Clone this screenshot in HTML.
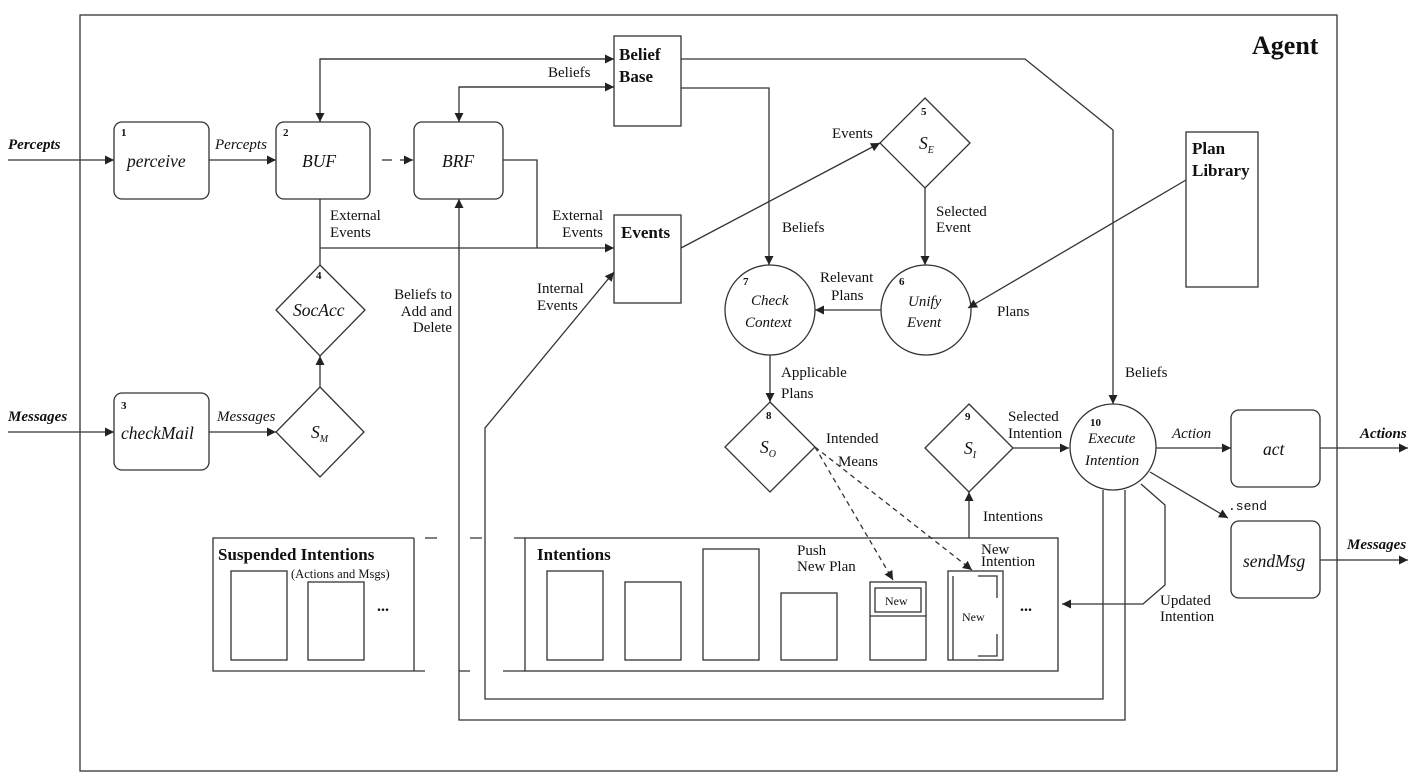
<!DOCTYPE html>
<html><head><meta charset="utf-8"><style>
html,body{margin:0;padding:0;background:#fff}
svg{display:block}
text{font-family:"Liberation Serif",serif;fill:#111}
.l{font-size:15px}
.n{font-size:17.5px;font-style:italic}
.b{font-weight:bold}
.num{font-size:11px;font-weight:bold}
</style></head><body>
<svg width="1414" height="778" viewBox="0 0 1414 778" xmlns="http://www.w3.org/2000/svg">
<defs>
<marker id="a" viewBox="0 0 10 10" refX="10" refY="5" markerWidth="13" markerHeight="9" markerUnits="userSpaceOnUse" orient="auto"><path d="M0,0L10,5L0,10z" fill="#222"/></marker>
</defs>
<g fill="none" stroke="#333" stroke-width="1.3">
<rect x="80" y="15" width="1257" height="756"/>
<rect x="114" y="122" width="95" height="77" rx="8"/>
<rect x="276" y="122" width="94" height="77" rx="8"/>
<rect x="414" y="122" width="89" height="77" rx="8"/>
<rect x="114" y="393" width="95" height="77" rx="8"/>
<rect x="1231" y="410" width="89" height="77" rx="8"/>
<rect x="1231" y="521" width="89" height="77" rx="8"/>
<rect x="614" y="36" width="67" height="90"/>
<rect x="614" y="215" width="67" height="88"/>
<rect x="1186" y="132" width="72" height="155"/>
<path d="M320,265L365,310L320,356L276,310Z"/>
<path d="M320,387L364,432L320,477L276,432Z"/>
<path d="M925,98L970,143L925,188L880,143Z"/>
<path d="M770,402L815,447L770,492L725,447Z"/>
<path d="M969,404L1013,448L969,492L925,448Z"/>
<circle cx="770" cy="310" r="45"/>
<circle cx="926" cy="310" r="45"/>
<circle cx="1113" cy="447" r="43"/>
<path d="M414,538H213V671H425M414,538V671"/>
<path d="M425,538H437M470,538H482M514,538H525M459,671H470M503,671H525"/>
<rect x="525" y="538" width="533" height="133"/>
<rect x="231" y="571" width="56" height="89"/>
<rect x="308" y="582" width="56" height="78"/>
<rect x="547" y="571" width="56" height="89"/>
<rect x="625" y="582" width="56" height="78"/>
<rect x="703" y="549" width="56" height="111"/>
<rect x="781" y="593" width="56" height="67"/>
<rect x="870" y="582" width="56" height="78"/>
<rect x="875" y="588" width="46" height="24"/>
<path d="M870,616H926"/>
<rect x="948" y="571" width="55" height="89"/>
<path d="M953,576V660M978,576H997V598M997,634V656H978"/>
<path d="M8,160H114" marker-end="url(#a)"/>
<path d="M209,160H276" marker-end="url(#a)"/>
<path d="M382,160H392"/>
<path d="M400,160H413" marker-end="url(#a)"/>
<path d="M8,432H114" marker-end="url(#a)"/>
<path d="M209,432H276" marker-end="url(#a)"/>
<path d="M320,387V356" marker-end="url(#a)"/>
<path d="M320,199V265M320,248H614" marker-end="url(#a)"/>
<path d="M503,160H537V248"/>
<path d="M614,59H320V122" marker-end="url(#a)"/>
<path d="M320,59H614" marker-end="url(#a)"/>
<path d="M614,87H459V122" marker-end="url(#a)"/>
<path d="M459,87H614" marker-end="url(#a)"/>
<path d="M681,59H1025L1113,130V404" marker-end="url(#a)"/>
<path d="M681,88H769V265" marker-end="url(#a)"/>
<path d="M1125,490V720H459V199" marker-end="url(#a)"/>
<path d="M1103,490V699H485V428L614,272" marker-end="url(#a)"/>
<path d="M681,248L880,143" marker-end="url(#a)"/>
<path d="M925,188V265" marker-end="url(#a)"/>
<path d="M1186,180L968,308" marker-end="url(#a)"/>
<path d="M881,310H815" marker-end="url(#a)"/>
<path d="M770,355V402" marker-end="url(#a)"/>
<path d="M815,447L893,580" stroke-dasharray="5,4" marker-end="url(#a)"/>
<path d="M815,447L972,570" stroke-dasharray="5,4" marker-end="url(#a)"/>
<path d="M969,538V492" marker-end="url(#a)"/>
<path d="M1013,448H1069" marker-end="url(#a)"/>
<path d="M1156,448H1231" marker-end="url(#a)"/>
<path d="M1320,448H1408" marker-end="url(#a)"/>
<path d="M1150,472L1228,518" marker-end="url(#a)"/>
<path d="M1320,560H1408" marker-end="url(#a)"/>
<path d="M1141,484L1165,505V585L1143,604H1062" marker-end="url(#a)"/>
</g>
<text x="1252" y="54" font-size="26" class="b">Agent</text>
<text x="8" y="149" class="l b" font-style="italic">Percepts</text>
<text x="8" y="421" class="l b" font-style="italic">Messages</text>
<text x="1360" y="438" class="l b" font-style="italic">Actions</text>
<text x="1347" y="549" class="l b" font-style="italic">Messages</text>
<text x="121" y="136" class="num">1</text>
<text x="127" y="167" class="n">perceive</text>
<text x="283" y="136" class="num">2</text>
<text x="302" y="167" class="n">BUF</text>
<text x="442" y="167" class="n">BRF</text>
<text x="121" y="409" class="num">3</text>
<text x="121" y="439" class="n">checkMail</text>
<text x="316" y="279" class="num">4</text>
<text x="293" y="316" class="n">SocAcc</text>
<text x="311" y="438" class="n">S<tspan font-size="10" dy="4">M</tspan></text>
<text x="921" y="115" class="num">5</text>
<text x="919" y="149" class="n">S<tspan font-size="10" dy="4">E</tspan></text>
<text x="899" y="285" class="num">6</text>
<text x="908" y="306" class="l" font-style="italic">Unify</text>
<text x="907" y="327" class="l" font-style="italic">Event</text>
<text x="743" y="285" class="num">7</text>
<text x="751" y="305" class="l" font-style="italic">Check</text>
<text x="745" y="327" class="l" font-style="italic">Context</text>
<text x="766" y="419" class="num">8</text>
<text x="760" y="453" class="n">S<tspan font-size="10" dy="4">O</tspan></text>
<text x="965" y="420" class="num">9</text>
<text x="964" y="454" class="n">S<tspan font-size="10" dy="4">I</tspan></text>
<text x="1090" y="426" class="num">10</text>
<text x="1088" y="443" class="l" font-style="italic">Execute</text>
<text x="1085" y="465" class="l" font-style="italic">Intention</text>
<text x="1263" y="455" class="n">act</text>
<text x="1243" y="567" class="n">sendMsg</text>
<text x="619" y="60" font-size="17" class="b">Belief</text>
<text x="619" y="82" font-size="17" class="b">Base</text>
<text x="621" y="238" font-size="17" class="b">Events</text>
<text x="1192" y="154" font-size="17" class="b">Plan</text>
<text x="1192" y="176" font-size="17" class="b">Library</text>
<text x="215" y="149" class="l" font-style="italic">Percepts</text>
<text x="217" y="421" class="l" font-style="italic">Messages</text>
<text x="548" y="77" class="l">Beliefs</text>
<text x="330" y="220" class="l">External</text>
<text x="330" y="237" class="l">Events</text>
<text x="603" y="220" class="l" text-anchor="end">External</text>
<text x="603" y="237" class="l" text-anchor="end">Events</text>
<text x="452" y="299" class="l" text-anchor="end">Beliefs to</text>
<text x="452" y="316" class="l" text-anchor="end">Add and</text>
<text x="452" y="332" class="l" text-anchor="end">Delete</text>
<text x="537" y="293" class="l">Internal</text>
<text x="537" y="310" class="l">Events</text>
<text x="832" y="138" class="l">Events</text>
<text x="782" y="232" class="l">Beliefs</text>
<text x="936" y="216" class="l">Selected</text>
<text x="936" y="232" class="l">Event</text>
<text x="820" y="282" class="l">Relevant</text>
<text x="831" y="300" class="l">Plans</text>
<text x="997" y="316" class="l">Plans</text>
<text x="781" y="377" class="l">Applicable</text>
<text x="781" y="398" class="l">Plans</text>
<text x="1125" y="377" class="l">Beliefs</text>
<text x="826" y="443" class="l">Intended</text>
<text x="838" y="466" class="l">Means</text>
<text x="1008" y="421" class="l">Selected</text>
<text x="1008" y="438" class="l">Intention</text>
<text x="1172" y="438" class="l" font-style="italic">Action</text>
<text x="1228" y="510" font-size="13" style="font-family:'Liberation Mono',monospace">.send</text>
<text x="983" y="521" class="l">Intentions</text>
<text x="797" y="555" class="l">Push</text>
<text x="797" y="571" class="l">New Plan</text>
<text x="981" y="554" class="l">New</text>
<text x="981" y="566" class="l">Intention</text>
<text x="1160" y="605" class="l">Updated</text>
<text x="1160" y="621" class="l">Intention</text>
<text x="885" y="605" font-size="12">New</text>
<text x="962" y="621" font-size="12">New</text>
<text x="218" y="560" font-size="17" class="b">Suspended Intentions</text>
<text x="291" y="578" font-size="12.5">(Actions and Msgs)</text>
<text x="537" y="560" font-size="17" class="b">Intentions</text>
<text x="377" y="611" font-size="16" class="b">...</text>
<text x="1020" y="611" font-size="16" class="b">...</text>
</svg>
</body></html>
